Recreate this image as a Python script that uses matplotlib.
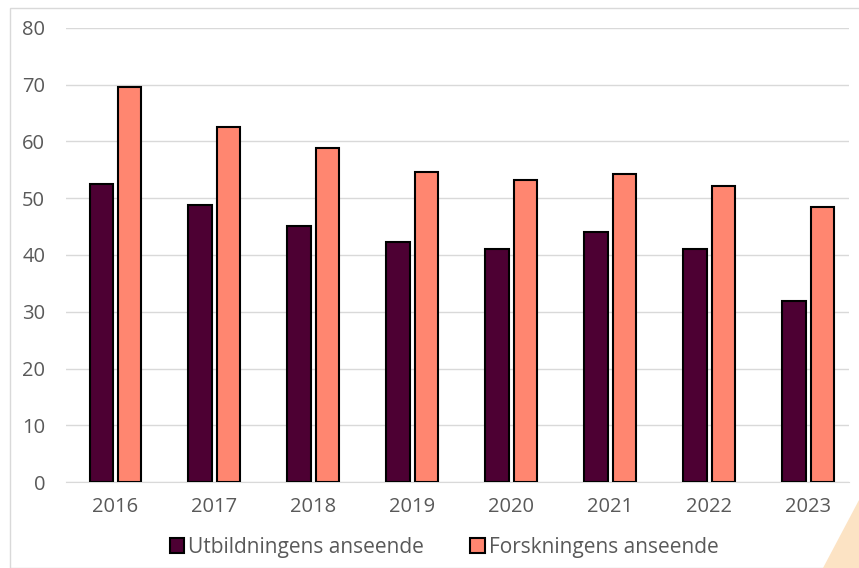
import numpy as np
import matplotlib
matplotlib.use("Agg")
from matplotlib import pyplot as plt
from matplotlib.patches import Polygon, Rectangle

years = ["2016", "2017", "2018", "2019", "2020", "2021", "2022", "2023"]
utbildning = [52.5, 48.8, 45.1, 42.3, 41.1, 44.1, 41.1, 31.9]
forskning = [69.6, 62.6, 58.9, 54.6, 53.2, 54.3, 52.2, 48.5]

plt.rcParams['font.family'] = ['Open Sans', 'DejaVu Sans']
text_color = "#595959"

fig = plt.figure(figsize=(8.59, 5.68), dpi=100)
W, H = 859, 568

# light frame and corner decoration
fig.patches.append(Rectangle((10 / W, 0), 1.0, 1 - 8 / H, transform=fig.transFigure,
                             fill=False, edgecolor="#D9D9D9", linewidth=1.0))
fig.patches.append(Polygon([(823 / W, 0), (1.0, 68 / H), (1.0, 0)], closed=True,
                           transform=fig.transFigure, facecolor="#FCE3C4", edgecolor="none"))

ax = fig.add_axes([66 / W, 1 - 482 / H, (849 - 66) / W, (482 - 28) / H])
x = np.arange(len(years))
w = 0.235
ax.bar(x - 0.145, utbildning, w, color="#4D0033", edgecolor="black", linewidth=1.5,
       label="Utbildningens anseende", zorder=3)
ax.bar(x + 0.145, forskning, w, color="#FF8670", edgecolor="black", linewidth=1.5,
       label="Forskningens anseende", zorder=3)

ax.set_ylim(0, 80)
ax.set_xlim(-0.5, 7.41)
ax.set_yticks(range(0, 81, 10))
ax.set_xticks(x)
ax.set_xticklabels(years)
ax.yaxis.grid(True, color="#D9D9D9", linewidth=1.0, zorder=0)
for s in ["top", "right", "left"]:
    ax.spines[s].set_visible(False)
ax.spines["bottom"].set_color("#D9D9D9")
ax.tick_params(axis="both", length=0, labelsize=14.5, colors=text_color)
ax.tick_params(axis="y", pad=15)
ax.tick_params(axis="x", pad=11)
ax.set_facecolor("none")

fig.legend(loc="center", bbox_to_anchor=(444 / W, 1 - 547 / H), ncol=2, frameon=False,
           fontsize=15, labelcolor=text_color, handlelength=0.7, handleheight=0.7,
           handletextpad=0.2, columnspacing=2.2)

fig.savefig("out.png", dpi=100)
